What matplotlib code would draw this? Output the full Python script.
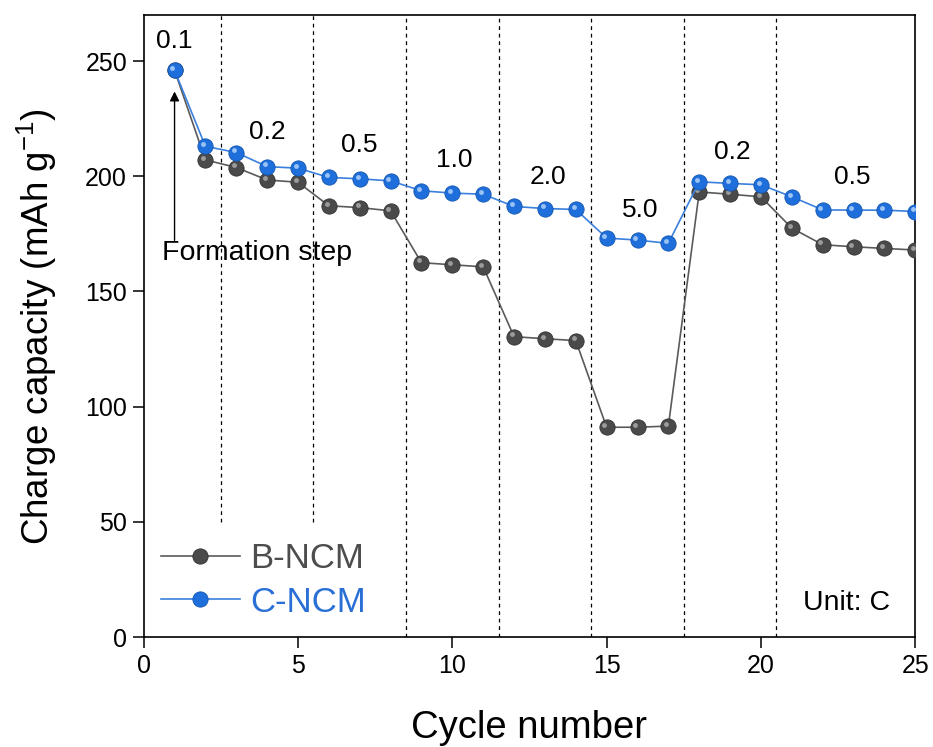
import numpy as np
import matplotlib.pyplot as plt
from matplotlib.transforms import offset_copy
from matplotlib.lines import Line2D

plt.rcParams['font.family'] = ['Liberation Sans', 'DejaVu Sans']
plt.rcParams['mathtext.default'] = 'regular'

cycles = np.arange(1, 26)
b_ncm = [246.0, 207.1, 203.8, 198.4, 197.4, 187.2, 186.4, 185.0, 162.5, 161.6,
         160.7, 130.4, 129.5, 128.7, 91.1, 91.1, 91.6, 193.2, 192.2, 191.1,
         177.5, 170.3, 169.4, 168.7, 168.0]
c_ncm = [246.0, 213.0, 210.3, 204.2, 203.5, 199.5, 198.9, 198.0, 193.7, 192.7,
         192.2, 186.9, 186.0, 185.6, 173.2, 172.3, 170.9, 197.6, 196.9, 196.3,
         191.1, 185.4, 185.3, 185.3, 184.7]

# rate steps: boundaries and labels
bounds = [2.5, 5.5, 8.5, 11.5, 14.5, 17.5, 20.5]
bound_ymin = [50, 50, 0, 0, 0, 0, 0]
rate_labels = ['0.1', '0.2', '0.5', '1.0', '2.0', '5.0', '0.2', '0.5']
rate_x = [1.0, 4.0, 7.0, 10.05, 13.1, 16.1, 19.07, 22.96]
rate_y = [258.5, 219.0, 213.5, 207.0, 199.5, 185.5, 210.5, 199.5]

fig = plt.figure(figsize=(9.33, 7.47), dpi=100)
ax = fig.add_axes([0.154, 0.147, 0.827, 0.833])

gray = '#4a4a4a'
blue = '#1e6fdc'

hl = offset_copy(ax.transData, fig=fig, x=-1.6, y=1.6, units='points')

ax.plot(cycles, b_ncm, '-', color='#5a5a5a', lw=1.2, zorder=3)
ax.plot(cycles, b_ncm, 'o', color=gray, mec='#333333', mew=0.6, ms=11, zorder=3)
ax.plot(cycles, b_ncm, 'o', color='#b0b0b0', mew=0, ms=3.5, alpha=0.8, zorder=3.1, transform=hl)

ax.plot(cycles, c_ncm, '-', color='#3a80dc', lw=1.2, zorder=4)
ax.plot(cycles, c_ncm, 'o', color=blue, mec='#1456b0', mew=0.6, ms=11, zorder=4)
ax.plot(cycles, c_ncm, 'o', color='#a8cdf7', mew=0, ms=3.5, alpha=0.9, zorder=4.1, transform=hl)

for xb, yb in zip(bounds, bound_ymin):
    ax.vlines(xb, yb, 270, colors='black', linestyles=(0, (3, 3)), lw=0.9, zorder=1)

for lab, xl, yl in zip(rate_labels, rate_x, rate_y):
    ax.text(xl, yl, lab, fontsize=19, ha='center', va='center')

ax.annotate('', xy=(1, 238), xytext=(1, 171),
            arrowprops=dict(arrowstyle='-|>', color='black', lw=1.0, mutation_scale=14))
ax.text(0.6, 166.8, 'Formation step', fontsize=20.5, ha='left', va='center', zorder=0.5)
ax.text(24.2, 14.7, 'Unit: C', fontsize=20.5, ha='right', va='center')

# legend with line + sphere handles
h1 = Line2D([], [], color='#5a5a5a', lw=1.2, marker='o', ms=11, mfc=gray, mec='#333333', mew=0.6)
h2 = Line2D([], [], color='#3a80dc', lw=1.2, marker='o', ms=11, mfc=blue, mec='#1456b0', mew=0.6)
leg = ax.legend([h1, h2], ['B-NCM', 'C-NCM'], loc='lower left', bbox_to_anchor=(0.023, 0.03),
                frameon=False, fontsize=25, handlelength=2.25, handletextpad=0.3,
                labelspacing=0.3, borderaxespad=0, borderpad=0)
for t, c in zip(leg.get_texts(), ['#4d4d4d', '#2a6fd6']):
    t.set_color(c)

ax.set_xlim(0, 25)
ax.set_ylim(0, 270)
ax.set_xticks([0, 5, 10, 15, 20, 25])
ax.set_yticks([0, 50, 100, 150, 200, 250])
ax.tick_params(direction='out', length=8, width=1.1, labelsize=18, pad=4)
for s in ax.spines.values():
    s.set_linewidth(1.2)

ax.set_xlabel('Cycle number', fontsize=27.5, labelpad=23)
ax.set_ylabel('Charge capacity (mAh g$^{-1}$)', fontsize=26.5, labelpad=19)

plt.savefig('out.png', dpi=100)
